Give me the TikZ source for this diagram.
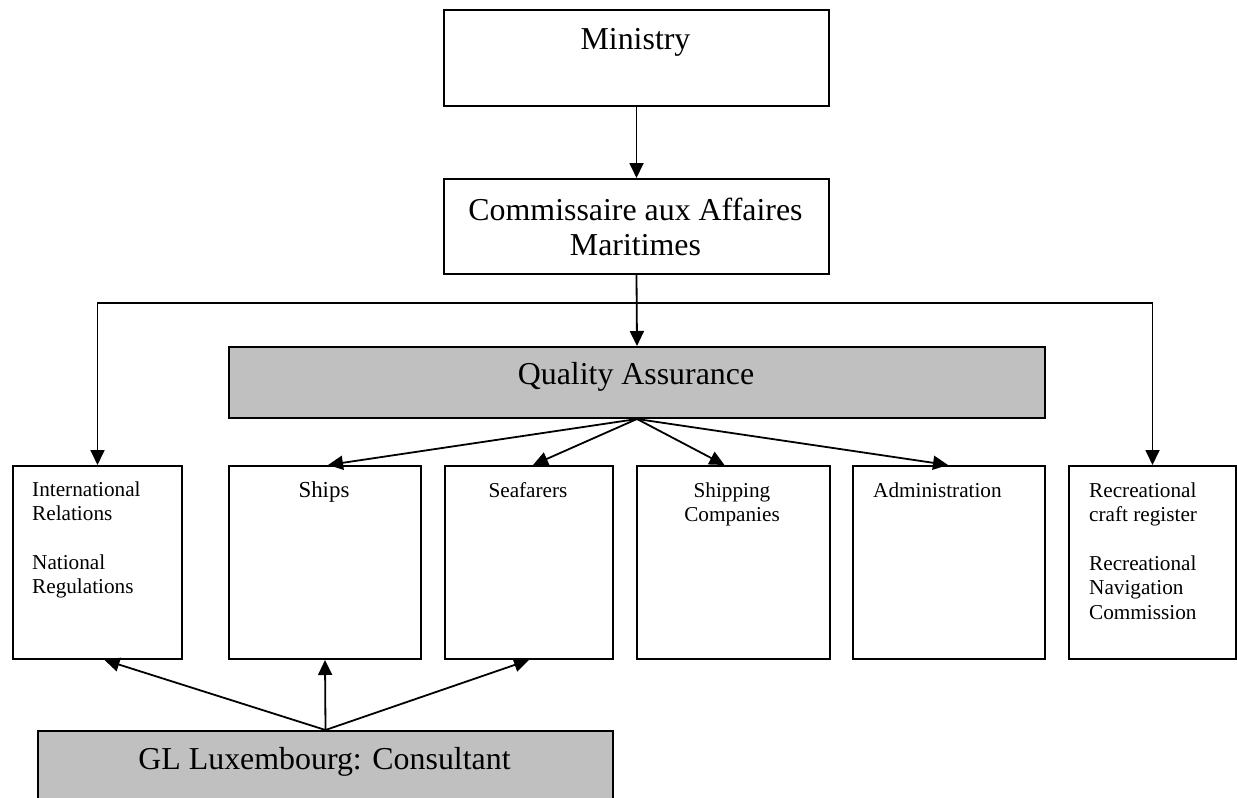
\documentclass[tikz,border=0pt]{standalone}
\usepackage{fontspec}
\setmainfont{Liberation Serif}
\usetikzlibrary{arrows.meta}
\definecolor{boxgray}{RGB}{192,192,192}
% stacked lines whose reference point is the first baseline
\newcommand{\leftlines}[1]{\vtop{\halign{##\hfil\cr #1\crcr}}}
\newcommand{\midlines}[1]{\vtop{\halign{\hfil##\hfil\cr #1\crcr}}}
\begin{document}
\begin{tikzpicture}[x=1bp,y=-1bp,
  box/.style={draw, line width=2bp, inner sep=0pt, anchor=north west},
  shaded/.style={box, fill=boxgray},
  bigtext/.style={font=\fontsize{32}{36}\selectfont, inner sep=0pt, anchor=base},
  smalltext/.style={font=\fontsize{21.3}{24.5}\selectfont, inner sep=0pt, anchor=base west},
  smallmid/.style={font=\fontsize{21.3}{24.5}\selectfont, inner sep=0pt, anchor=base},
  link/.style={line width=1.8bp, -{Triangle[length=15bp,width=14bp]}}]

\useasboundingbox (0,0) rectangle (1237,798);
\clip (0,0) rectangle (1237,798);

% top of the hierarchy
\node[box, minimum width=385bp, minimum height=96bp] (ministry) at (443,9) {};
\node[box, minimum width=385bp, minimum height=95bp] (cam) at (443,178) {};
\node[shaded, minimum width=816bp, minimum height=71bp] (qa) at (228,346) {};

% departments
\node[box, minimum width=169bp, minimum height=193bp] (ir) at (12,465) {};
\node[box, minimum width=192bp, minimum height=193bp] (ships) at (228,465) {};
\node[box, minimum width=168bp, minimum height=193bp] (seaf) at (444,465) {};
\node[box, minimum width=193bp, minimum height=193bp] (shipco) at (636,465) {};
\node[box, minimum width=192bp, minimum height=193bp] (admin) at (852,465) {};
\node[box, minimum width=167bp, minimum height=193bp] (recr) at (1068,465) {};

% consultant
\node[shaded, minimum width=575bp, minimum height=100bp] (gl) at (37,730) {};

% labels
\node[bigtext] (tministry) at (635.5,50) {Ministry};
\node[bigtext] (tcam) at (635.5,220) {\midlines{Commissaire aux Affaires\cr Maritimes}};
\node[bigtext] (tqa) at (636,384) {Quality Assurance};
\node[bigtext] (tgl) at (324.5,769) {GL Luxembourg: Consultant};

\node[smalltext] (tir) at (32,496) {\leftlines{International\cr Relations\cr \cr National\cr Regulations}};
\node[smallmid, font=\fontsize{23}{26}\selectfont] (tships) at (324,497) {Ships};
\node[smallmid] (tseaf) at (528,497) {Seafarers};
\node[smallmid] (tshipco) at (732,497) {\midlines{Shipping\cr Companies}};
\node[smalltext] (tadmin) at (873,497) {Administration};
\node[smalltext] (trecr) at (1089,497) {\leftlines{Recreational\cr craft register\cr \cr Recreational\cr Navigation\cr Commission}};

% connectors
\coordinate (split) at (635.5,303);
\draw[link] (ministry.south) -- (cam.north);
\draw[link] (cam.south) -- (qa.north);
\draw[link] (split) -| (ir.north);
\draw[link] (split) -| (recr.north);

\draw[link] (qa.south) -- ([xshift=3bp]ships.north);
\draw[link] (qa.south) -- ([xshift=4bp]seaf.north);
\draw[link] (qa.south) -- ([xshift=-9bp]shipco.north);
\draw[link] (qa.south) -- ([xshift=-1bp]admin.north);

\draw[link] (gl.north) -- ([xshift=7bp]ir.south);
\draw[link] (gl.north) -- (ships.south);
\draw[link] (gl.north) -- (seaf.south);
\end{tikzpicture}
\end{document}
